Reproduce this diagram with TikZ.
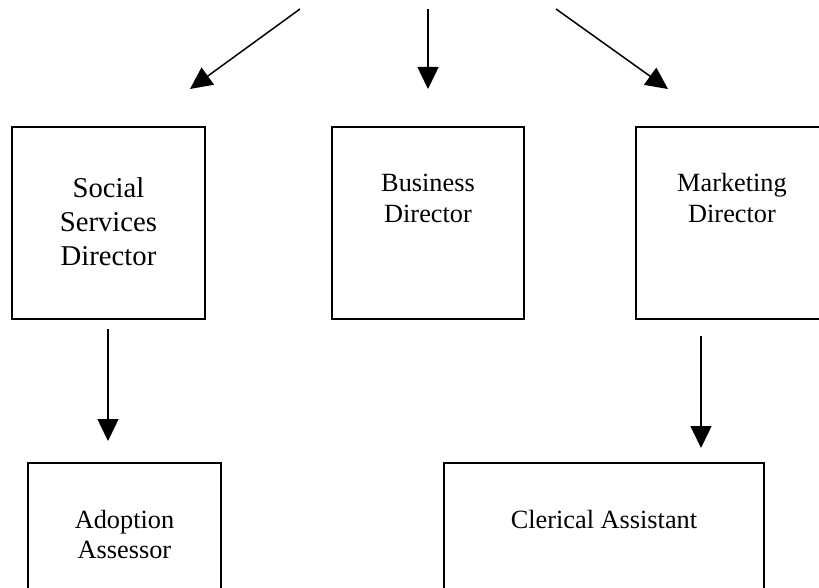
\documentclass[tikz,border=0pt]{standalone}
\usepackage{fontspec}
\setmainfont{Liberation Serif}
\usetikzlibrary{arrows.meta}
\begin{document}
\begin{tikzpicture}[x=1pt,y=-1pt,
  box/.style={draw=black, line width=1.6pt, inner sep=0pt, fill=none},
  lbl/.style={anchor=base, inner sep=0pt, font=\fontsize{26.3}{30.5}\selectfont},
  biglbl/.style={anchor=base, inner sep=0pt, font=\fontsize{28.7}{33.5}\selectfont},
  arr/.style={line width=1.5pt, -{Triangle[length=22pt,width=21pt]}}]
\path[use as bounding box] (0,0) rectangle (819,588);
\fill[white] (0,0) rectangle (819,588);
\clip (0,0) rectangle (819,588);
% boxes
\node[box, minimum width=193pt, minimum height=192pt] (soc) at (108.5,223) {};
\node[box, minimum width=192pt, minimum height=192pt] (bus) at (428,223) {};
\node[box, minimum width=192pt, minimum height=192pt] (mkt) at (732,223) {};
\node[box, minimum width=193pt, minimum height=200pt] (ado) at (124.5,563) {};
\node[box, minimum width=320pt, minimum height=200pt] (cle) at (604,563) {};
% labels
\node[biglbl] (soct) at (108.5,198) {\begin{tabular}[t]{@{}c@{}}Social\\Services\\Director\end{tabular}};
\node[lbl] (bust) at (428,192) {\begin{tabular}[t]{@{}c@{}}Business\\Director\end{tabular}};
\node[lbl] (mktt) at (732,192) {\begin{tabular}[t]{@{}c@{}}Marketing\\Director\end{tabular}};
\node[lbl] (adot) at (124.5,528) {\begin{tabular}[t]{@{}c@{}}Adoption\\Assessor\end{tabular}};
\node[lbl] (clet) at (604,528) {Clerical Assistant};
% arrow end points
\coordinate (s1) at (300,9);   \coordinate (t1) at (190,89);
\coordinate (s2) at (428,9);   \coordinate (t2) at (428,89);
\coordinate (s3) at (556,9);   \coordinate (t3) at (668,89);
\coordinate (s4) at (108,329); \coordinate (t4) at (108,441);
\coordinate (s5) at (701,336); \coordinate (t5) at (701,448);
\draw[arr] (s1) -- (t1);
\draw[arr] (s2) -- (t2);
\draw[arr] (s3) -- (t3);
\draw[arr] (s4) -- (t4);
\draw[arr] (s5) -- (t5);
\end{tikzpicture}
\end{document}
